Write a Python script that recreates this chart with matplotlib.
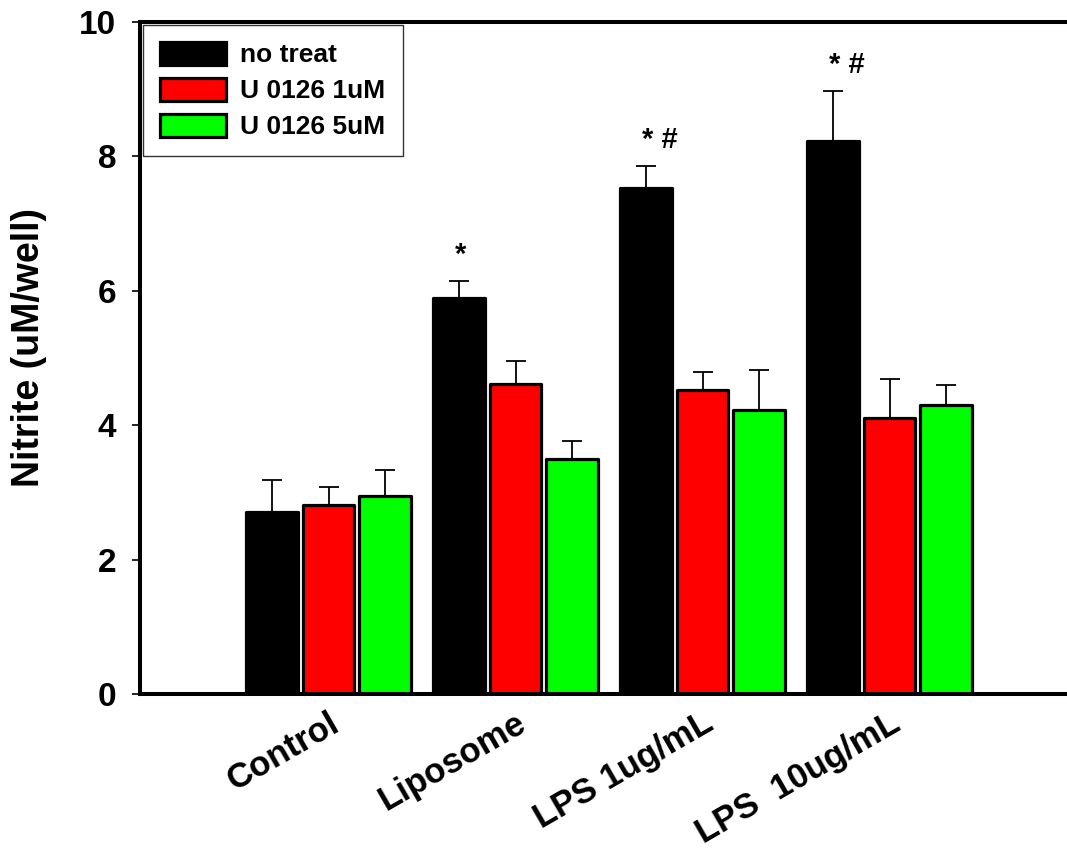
import matplotlib
matplotlib.use("Agg")
import matplotlib.pyplot as plt
import matplotlib.transforms as mtransforms
from matplotlib.patches import Patch
import numpy as np

plt.rcParams["font.family"] = ["Liberation Sans", "DejaVu Sans"]
plt.rcParams["font.weight"] = "bold"

# Nitrite production per treatment group
groups = ["Control", "Liposome", "LPS 1ug/mL", "LPS  10ug/mL"]
series = ["no treat", "U 0126 1uM", "U 0126 5uM"]
no_treat = [2.71, 5.90, 7.53, 8.23]
no_treat_err = [0.47, 0.25, 0.33, 0.74]
u0126_1um = [2.81, 4.61, 4.52, 4.10]
u0126_1um_err = [0.27, 0.34, 0.27, 0.59]
u0126_5um = [2.94, 3.50, 4.22, 4.30]
u0126_5um_err = [0.40, 0.27, 0.60, 0.30]
marks = ["", "*", "* #", "* #"]

colors = ["#000000", "#ff0000", "#00ff00"]
values = [no_treat, u0126_1um, u0126_5um]
errors = [no_treat_err, u0126_1um_err, u0126_5um_err]

W, H = 1067, 851
fig = plt.figure(figsize=(W / 100, H / 100), dpi=100)
ax = fig.add_axes([140 / W, (H - 694) / H, (W - 140) / W, (694 - 22) / H])

x = np.arange(len(groups))
offsets = [-0.302, 0.0, 0.302]
width = 0.275
edge_lw = 2.3

for vals, errs, col, off in zip(values, errors, colors, offsets):
    ax.errorbar(x + off, vals, yerr=[np.zeros(len(errs)), errs], fmt="none",
                ecolor="black", elinewidth=1.3, capsize=7.5, capthick=1.3,
                zorder=1)
    ax.bar(x + off, vals, width, color=col, edgecolor="black",
           linewidth=edge_lw, joinstyle="round", zorder=2)

# significance marks above the untreated bars
for xi, v, e, m in zip(x, no_treat, no_treat_err, marks):
    if m:
        ax.annotate(m, xy=(xi + offsets[0], v + e), xytext=(-3, 13),
                    textcoords="offset points", ha="left", va="baseline",
                    fontsize=21, fontweight="bold")

ax.set_xlim(-1.008, 3.949)
ax.set_ylim(0, 10)
ax.set_yticks([0, 2, 4, 6, 8, 10])
ax.set_xticks(x)
ax.set_xticklabels(groups, fontsize=25, fontweight="bold", rotation=30,
                   ha="right", rotation_mode="anchor")
shift = mtransforms.ScaledTranslation(7 / 100, 0, fig.dpi_scale_trans)
for lab in ax.get_xticklabels():
    lab.set_transform(lab.get_transform() + shift)
ax.tick_params(axis="x", length=0, pad=9)
ax.tick_params(axis="y", direction="out", length=6, width=1.2, pad=11,
               labelsize=24)
for lab in ax.get_yticklabels():
    lab.set_fontweight("bold")

ax.spines["right"].set_visible(False)
for s in ["left", "bottom", "top"]:
    ax.spines[s].set_linewidth(2.9)

ax.set_ylabel("Nitrite (uM/well)", fontsize=27, fontweight="bold")
ax.yaxis.set_label_coords((47 - 140) / (W - 140), 0.516)

handles = [Patch(facecolor=c, edgecolor="black", linewidth=edge_lw,
                 joinstyle="round") for c in colors]
leg = ax.legend(handles, series, loc="upper left",
                frameon=True, fancybox=False, borderaxespad=0.1,
                handlelength=2.5, handleheight=0.95, handletextpad=0.55,
                labelspacing=0.4, borderpad=0.65,
                prop={"weight": "bold", "size": 19})
leg.get_frame().set_edgecolor("black")
leg.get_frame().set_linewidth(1.0)

fig.savefig("out.png", dpi=100)
